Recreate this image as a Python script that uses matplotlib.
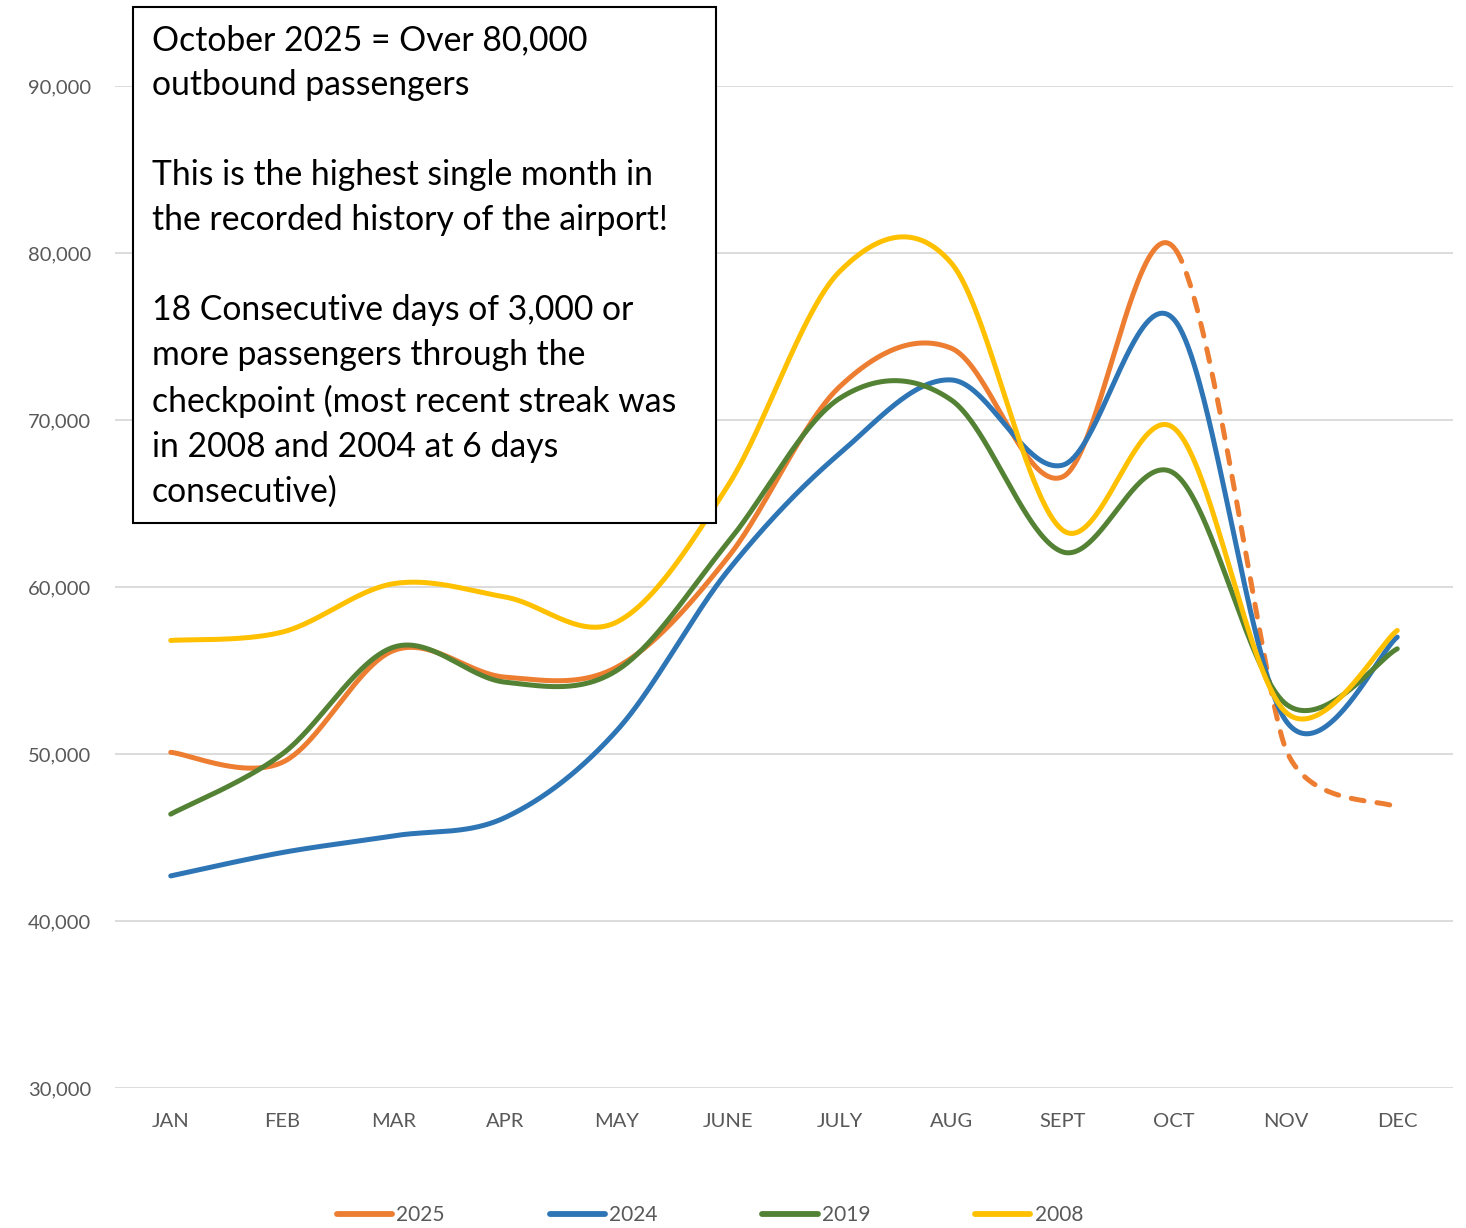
import numpy as np
import matplotlib
matplotlib.use('Agg')
import matplotlib.pyplot as plt
from matplotlib.patches import Rectangle

# ---------------- data ----------------
months = ['JAN', 'FEB', 'MAR', 'APR', 'MAY', 'JUNE', 'JULY', 'AUG', 'SEPT', 'OCT', 'NOV', 'DEC']
y2025 = [50100, 49500, 56200, 54600, 55200, 61800, 72000, 74300, 66600, 80300, 50300, 46800]
y2024 = [42700, 44100, 45100, 46200, 51400, 61000, 68000, 72400, 67300, 76000, 52000, 57000]
y2019 = [46400, 50000, 56400, 54300, 55000, 62700, 71300, 71200, 62100, 66800, 53000, 56300]
y2008 = [56800, 57300, 60200, 59400, 57900, 66100, 78900, 79400, 63400, 69500, 52500, 57400]
series_labels = ['2025', '2024', '2019', '2008']
last_actual_2025 = 9  # index of OCT; later months are projected (dashed)

yticks = [30000, 40000, 50000, 60000, 70000, 80000, 90000]

note_text = ("October 2025 = Over 80,000\n"
             "outbound passengers\n"
             "\n"
             "This is the highest single month in\n"
             "the recorded history of the airport!\n"
             "\n"
             "18 Consecutive days of 3,000 or\n"
             "more passengers through the\n"
             "checkpoint (most recent streak was\n"
             "in 2008 and 2004 at 6 days\n"
             "consecutive)")

colors = {'2025': '#ED7D31', '2024': '#2E75B6', '2019': '#548235', '2008': '#FFC000'}
FONT = 'Lato'


def smooth(ax, values, n=80):
    """Excel-style smoothed line: Catmull-Rom Bezier in screen space, with the
    control arms limited to half of the neighbouring segment lengths."""
    y = np.asarray(values, float)
    x = np.arange(len(y), dtype=float)
    P = ax.transData.transform(np.column_stack([x, y]))
    m = len(P)

    def arm(i):
        p0 = P[i - 1] if i > 0 else P[i]
        p2 = P[i + 1] if i + 1 < m else P[i]
        v = (p2 - p0) / 6.0
        L = np.hypot(*v)
        dl = np.hypot(*(P[i] - p0))
        dr = np.hypot(*(p2 - P[i]))
        lims = [d / 2.0 for d in (dl, dr) if d > 0]
        lim = min(lims) if lims else 0.0
        if L > lim and L > 0:
            v = v * lim / L
        return v

    t = np.linspace(0, 1, n)[:, None]
    segs = []
    for i in range(m - 1):
        p1, p2 = P[i], P[i + 1]
        c1 = p1 + arm(i)
        c2 = p2 - arm(i + 1)
        seg = (1 - t) ** 3 * p1 + 3 * (1 - t) ** 2 * t * c1 + 3 * (1 - t) * t ** 2 * c2 + t ** 3 * p2
        segs.append(seg if i == 0 else seg[1:])
    S = ax.transData.inverted().transform(np.vstack(segs))
    return S[:, 0], S[:, 1]


W, H = 1466, 1228
fig = plt.figure(figsize=(W / 100, H / 100), dpi=100)
fig.patch.set_facecolor('white')

ax_left, ax_right, ax_top, ax_bottom = 115, 1453, 86, 1088
ax = fig.add_axes([ax_left / W, 1 - ax_bottom / H, (ax_right - ax_left) / W, (ax_bottom - ax_top) / H])
ax.set_xlim(-0.5, len(months) - 0.5)
ax.set_ylim(30000, 90000)

for s in ax.spines.values():
    s.set_visible(False)
ax.set_yticks(yticks)
ax.set_yticklabels([f'{v:,}' for v in yticks])
ax.set_xticks(range(len(months)))
ax.set_xticklabels(months)
ax.tick_params(axis='both', length=0, labelcolor='#595959', labelsize=14.5)
ax.tick_params(axis='y', pad=17)
ax.tick_params(axis='x', pad=18)
for lab in ax.get_xticklabels() + ax.get_yticklabels():
    lab.set_fontfamily(FONT)
ax.grid(axis='y', color='#D9D9D9', linewidth=1.3)
ax.set_axisbelow(True)

lw = 3.6
handles = []
# 2025: solid through Oct, dashed for the projected months
xs, ys = smooth(ax, y2025)
h25, = ax.plot(xs[xs <= last_actual_2025], ys[xs <= last_actual_2025], color=colors['2025'], lw=lw,
               solid_capstyle='round', zorder=3)
ax.plot(xs[xs >= last_actual_2025], ys[xs >= last_actual_2025], color=colors['2025'], lw=lw,
        linestyle=(0, (2.6, 2.6)), dash_capstyle='round', zorder=3)
handles.append(h25)
for lbl, vals, z in [('2024', y2024, 4), ('2019', y2019, 5), ('2008', y2008, 6)]:
    xs, ys = smooth(ax, vals)
    h, = ax.plot(xs, ys, color=colors[lbl], lw=lw, solid_capstyle='round', zorder=z)
    handles.append(h)

leg = fig.legend(handles, series_labels, loc='center', ncol=4, frameon=False,
                 bbox_to_anchor=(710 / W, 1 - 1215 / H),
                 prop={'family': FONT, 'size': 15}, handlelength=2.65, handletextpad=0.2,
                 columnspacing=5.03)
for txt in leg.get_texts():
    txt.set_color('#595959')
for lh in leg.get_lines():
    lh.set_linewidth(4.2)
    lh.set_solid_capstyle('round')

# annotation box
bx0, by0, bx1, by1 = 133, 7, 716, 523
fig.patches.append(Rectangle((bx0 / W, 1 - by1 / H), (bx1 - bx0) / W, (by1 - by0) / H,
                             transform=fig.transFigure, facecolor='white', edgecolor='black',
                             linewidth=1.5, zorder=10))
fig.text(152 / W, 1 - 24 / H, note_text, ha='left', va='top', fontsize=24.3,
         family=FONT, color='black', linespacing=1.5, zorder=11)

fig.savefig('out.png', dpi=100, facecolor='white')
